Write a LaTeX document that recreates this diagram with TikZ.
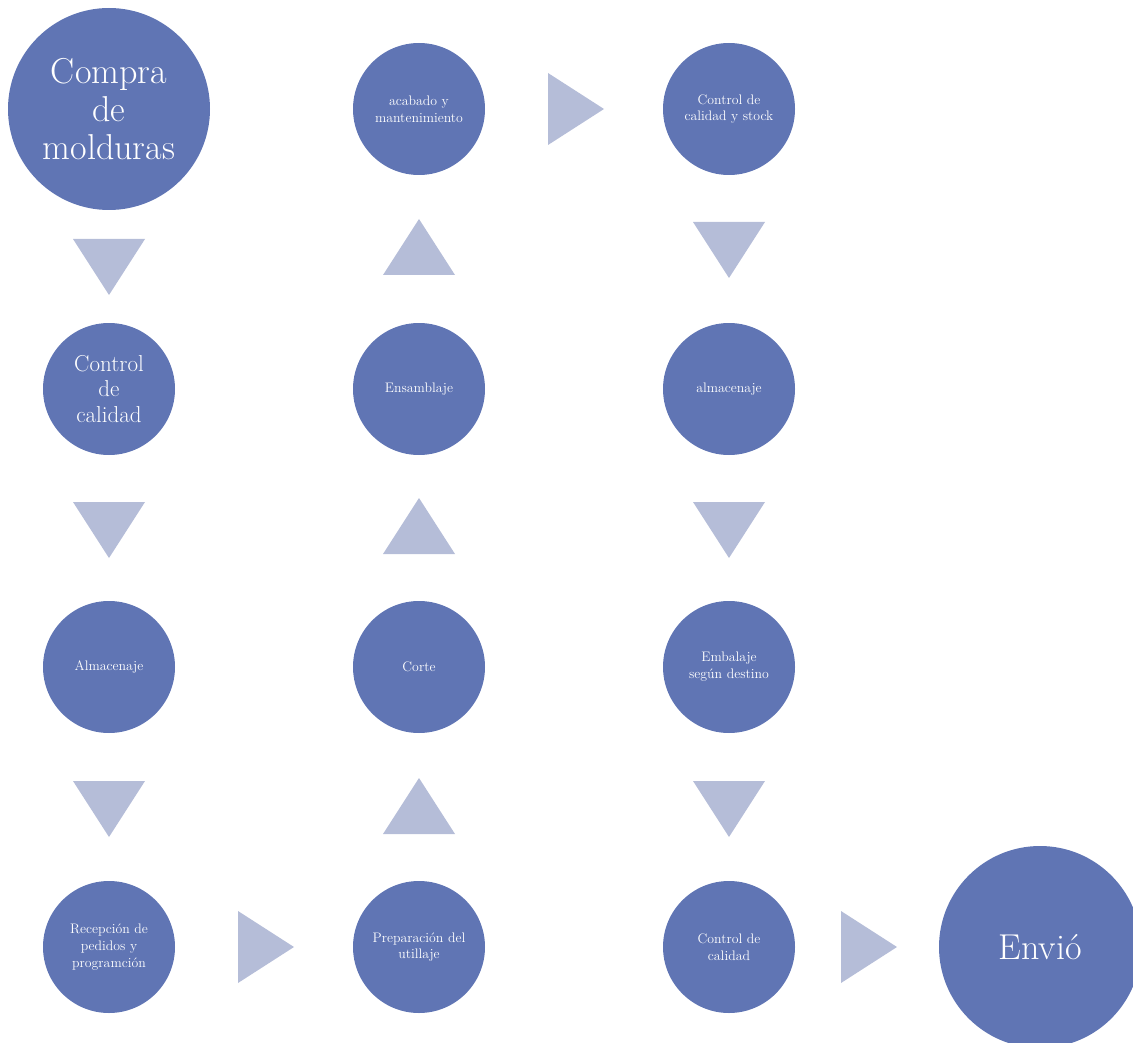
\documentclass[tikz,border=0pt]{standalone}
\definecolor{stepblue}{RGB}{96,117,180}
\definecolor{arrowpale}{RGB}{181,189,216}
\newcommand{\tridown}[2]{\fill[arrowpale] (#1-36,#2) -- (#1+36,#2) -- (#1,#2+56) -- cycle;}
\newcommand{\triup}[2]{\fill[arrowpale] (#1-36,#2+56) -- (#1+36,#2+56) -- (#1,#2) -- cycle;}
\newcommand{\triright}[2]{\fill[arrowpale] (#1,#2-36) -- (#1,#2+36) -- (#1+56,#2) -- cycle;}
\begin{document}
\begin{tikzpicture}[x=1pt,y=-1pt,
    stepnode/.style={circle,fill=stepblue,text=white,inner sep=0pt,
      minimum size=132pt,align=center,font=\fontsize{13.8}{16.8}\selectfont},
    midnode/.style={stepnode,font=\fontsize{23}{25.5}\selectfont},
    bignode/.style={stepnode,minimum size=202pt,font=\fontsize{36}{38}\selectfont}]
  \useasboundingbox (0,0) rectangle (1133,1043);
  \begin{scope}
    \clip (0,0) rectangle (1133,1043);
    \draw
      (109,109) node[bignode] (compra){Compra\\de\\molduras}
      (109,389) node[midnode] (control1){Control\\de\\calidad}
      (109,667) node[stepnode] (almac1){Almacenaje}
      (109,947) node[stepnode] (recep){Recepción de\\pedidos y\\programción}
      (419,947) node[stepnode] (prep){Preparación del\\utillaje}
      (419,667) node[stepnode] (corte){Corte}
      (419,389) node[stepnode] (ensam){Ensamblaje}
      (419,109) node[stepnode] (acabado){acabado y\\mantenimiento}
      (729,109) node[stepnode] (control2){Control de\\calidad y stock}
      (729,389) node[stepnode] (almac2){almacenaje}
      (729,667) node[stepnode] (embal){Embalaje\\según destino}
      (729,947) node[stepnode] (control3){Control de\\calidad}
      (1040,947) node[bignode] (envio){Envió};
  \end{scope}
  % flechas entre pasos
  \tridown{109}{239}
  \tridown{109}{502}
  \tridown{109}{781}
  \triright{238}{947}
  \triup{419}{778}
  \triup{419}{498}
  \triup{419}{219}
  \triright{548}{109}
  \tridown{729}{222}
  \tridown{729}{502}
  \tridown{729}{781}
  \triright{841}{947}
\end{tikzpicture}
\end{document}
